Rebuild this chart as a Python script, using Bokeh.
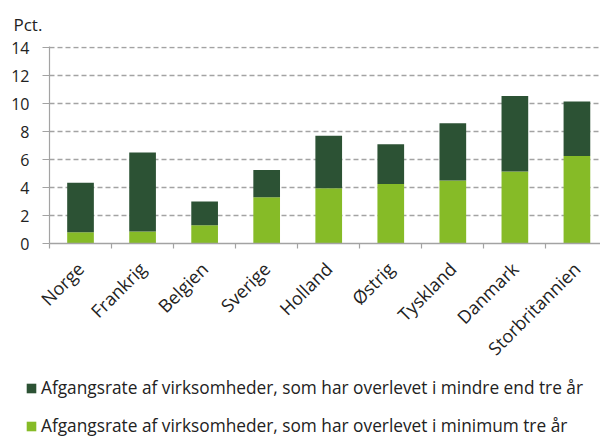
import math
from bokeh.plotting import figure
from bokeh.layouts import column, row
from bokeh.models import Range1d, FixedTicker, Legend, LegendItem, ColumnDataSource
from bokeh.embed import file_html
from bokeh.resources import INLINE

countries = ["Norge", "Frankrig", "Belgien", "Sverige", "Holland", "Østrig",
             "Tyskland", "Danmark", "Storbritannien"]
min_tre_aar = [0.8, 0.85, 1.3, 3.3, 3.95, 4.25, 4.5, 5.15, 6.25]
mindre_end_tre_aar = [3.55, 5.65, 1.7, 1.95, 3.75, 2.85, 4.1, 5.4, 3.9]
y_ticks = [0, 2, 4, 6, 8, 10, 12, 14]
legend_labels = ["Afgangsrate af virksomheder, som har overlevet i mindre end tre år",
                 "Afgangsrate af virksomheder, som har overlevet i minimum tre år"]
unit_label = "Pct."

DARK = "#2C5234"
LIGHT = "#86BB27"
GRAY = "#A3A3A3"
TXT = "#222222"
FONT = "Open Sans"

xc = [i + 0.5 for i in range(len(countries))]
src = ColumnDataSource(dict(x=xc, light=min_tre_aar, dark=mindre_end_tre_aar))

p = figure(width=600, height=371, output_backend="svg", toolbar_location=None,
           x_range=Range1d(0, 8.88), y_range=Range1d(0, 14.08),
           min_border_left=49, min_border_right=0, min_border_top=46, min_border_bottom=128,
           title=unit_label)
p.outline_line_color = None
p.background_fill_color = "white"
p.title.text_font = FONT
p.title.text_font_size = "17px"
p.title.text_font_style = "normal"
p.title.text_color = TXT
p.title.align = "left"
p.title.offset = -36
p.title.standoff = 21

rs = p.vbar_stack(["light", "dark"], x="x", width=0.43, source=src,
                  color=[LIGHT, DARK], line_color=None)

# x axis
p.xaxis.ticker = FixedTicker(ticks=xc, minor_ticks=list(range(len(countries) + 1)))
p.xaxis.major_label_overrides = {c: n for c, n in zip(xc, countries)}
p.xaxis.major_tick_line_color = None
p.xaxis.minor_tick_line_color = GRAY
p.xaxis.minor_tick_line_width = 1.2
p.xaxis.minor_tick_out = 5
p.xaxis.minor_tick_in = 0
p.xaxis.axis_line_color = GRAY
p.xaxis.axis_line_width = 1.5
p.xaxis.major_label_orientation = math.pi / 4
p.xaxis.major_label_text_font = FONT
p.xaxis.major_label_text_font_size = "18px"
p.xaxis.major_label_text_color = TXT
p.xaxis.major_label_standoff = 16

# y axis
p.yaxis.ticker = FixedTicker(ticks=y_ticks)
p.yaxis.axis_line_color = GRAY
p.yaxis.axis_line_width = 1.2
p.yaxis.major_tick_line_color = GRAY
p.yaxis.major_tick_line_width = 1.2
p.yaxis.major_tick_out = 7
p.yaxis.major_tick_in = 0
p.yaxis.minor_tick_line_color = None
p.yaxis.major_label_text_font = FONT
p.yaxis.major_label_text_font_size = "16px"
p.yaxis.major_label_text_color = TXT
p.yaxis.major_label_standoff = 13

p.xgrid.grid_line_color = None
p.ygrid.grid_line_color = GRAY
p.ygrid.grid_line_width = 1.5
p.ygrid.grid_line_dash = "5 3"

# legend in a separate strip below the chart
lg = figure(width=600, height=66, output_backend="svg", toolbar_location=None,
            x_range=Range1d(0, 1), y_range=Range1d(0, 1),
            x_axis_type=None, y_axis_type=None,
            min_border_left=0, min_border_right=0, min_border_top=0, min_border_bottom=0,
            outline_line_color=None)
lg.grid.visible = False
offscreen = ColumnDataSource(dict(x=[-5], top=[-5]))
r_dark = lg.vbar(x="x", top="top", width=0.1, source=offscreen, color=DARK, line_color=None)
r_light = lg.vbar(x="x", top="top", width=0.1, source=offscreen, color=LIGHT, line_color=None)
legend = Legend(items=[LegendItem(label=legend_labels[0], renderers=[r_dark]),
                       LegendItem(label=legend_labels[1], renderers=[r_light])],
                location=(25, 0), orientation="vertical",
                glyph_width=12, glyph_height=12, label_standoff=4,
                label_height=22, spacing=15, padding=0, margin=0,
                border_line_color=None, background_fill_alpha=0,
                label_text_font=FONT, label_text_font_size="17.3px", label_text_color=TXT)
lg.add_layout(legend, "center")

layout = column(p, row(lg), spacing=0)
open("out.html", "w").write(file_html(layout, INLINE))
